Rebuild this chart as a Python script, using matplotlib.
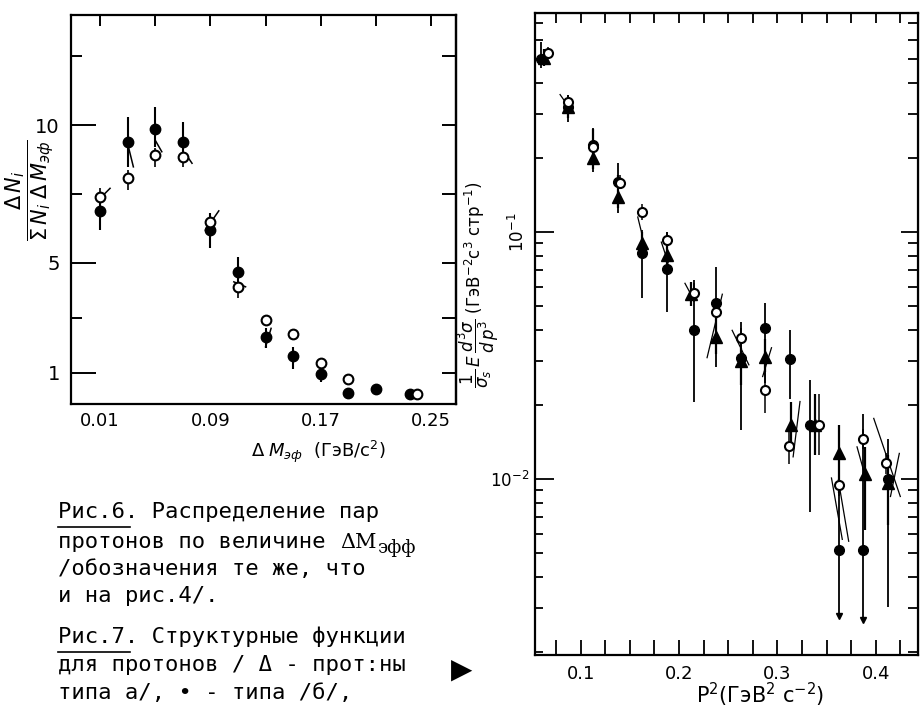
import numpy as np
import matplotlib
matplotlib.use('Agg')
import matplotlib.pyplot as plt
from matplotlib.lines import Line2D
from matplotlib.transforms import blended_transform_factory

# ---------------- Рис.6 : распределение по dM_эфф ----------------
dm_full = [0.01, 0.03, 0.05, 0.07, 0.09, 0.11, 0.13, 0.15, 0.17, 0.19, 0.21, 0.235]
n_full = [6.88, 9.39, 9.85, 9.39, 6.2, 4.67, 2.28, 1.6, 0.95, 0.27, 0.42, 0.24]
n_full_lo = [6.18, 8.48, 9.21, 8.85, 5.52, 4.24, 1.88, 1.15, 0.67, 0.27, 0.42, 0.24]
n_full_hi = [7.39, 10.3, 10.67, 10.12, 6.79, 5.21, 2.61, 1.94, 1.2, 0.27, 0.42, 0.24]

dm_open = [0.01, 0.03, 0.05, 0.07, 0.09, 0.11, 0.13, 0.15, 0.17, 0.19, 0.24]
n_open = [7.39, 8.06, 8.91, 8.85, 6.48, 4.12, 2.91, 2.42, 1.36, 0.76, 0.24]
n_open_lo = [7.09, 7.64, 8.48, 8.48, 6.1, 3.7, 2.91, 2.42, 1.36, 0.76, 0.24]
n_open_hi = [7.7, 8.36, 9.15, 9.1, 6.8, 4.36, 2.91, 2.42, 1.36, 0.76, 0.24]

# косые отрезки (ошибки третьей серии)
sl6_x0 = [0.0088, 0.0306, 0.050, 0.0718, 0.0864, 0.107, 0.130]
sl6_y0 = [7.27, 9.21, 9.45, 8.97, 6.18, 4.30, 1.94]
sl6_x1 = [0.0173, 0.0342, 0.0548, 0.0767, 0.0961, 0.1155, 0.134]
sl6_y1 = [7.70, 8.48, 9.03, 8.61, 6.88, 4.12, 2.61]

# ---------------- Рис.7 : структурные функции ----------------
p2_full = [0.0600, 0.0875, 0.1125, 0.1375, 0.1625, 0.1875, 0.2150, 0.2375, 0.2625,
           0.2875, 0.3125, 0.3335, 0.3625, 0.3875, 0.4125]
f_full = [0.50, 0.32, 0.225, 0.16, 0.082, 0.071, 0.0401, 0.0514, 0.0308, 0.0408,
          0.0305, 0.0166, 0.00516, 0.00516, 0.0100]
f_full_lo = [0.46, 0.28, 0.175, 0.119, 0.054, 0.0475, 0.0206, 0.0285, 0.0158, 0.0245,
             0.021, 0.00738, 0.0028, 0.0027, 0.00304]
f_full_hi = [0.59, 0.36, 0.263, 0.19, 0.102, 0.10, 0.064, 0.072, 0.0434, 0.0514,
             0.040, 0.0251, 0.0166, 0.0184, 0.0145]
p2_limit = [0.3625, 0.3875]
f_limit = [0.0028, 0.0027]

p2_tri = [0.0625, 0.0875, 0.1125, 0.1375, 0.1625, 0.1875, 0.2125, 0.2375, 0.2625,
          0.2875, 0.3135, 0.3380, 0.3625, 0.3890, 0.4125]
f_tri = [0.505, 0.32, 0.20, 0.139, 0.090, 0.081, 0.056, 0.0377, 0.030, 0.0313,
         0.0166, 0.0166, 0.0127, 0.0105, 0.0096]
f_tri_lo = [0.47, 0.29, 0.18, 0.125, 0.08, 0.073, 0.05, 0.032, 0.024, 0.027,
            0.0135, 0.0125, 0.0088, 0.0062, 0.0065]
f_tri_hi = [0.55, 0.35, 0.26, 0.17, 0.10, 0.09, 0.063, 0.045, 0.034, 0.037,
            0.0205, 0.022, 0.0166, 0.0135, 0.0125]

p2_open = [0.0670, 0.0875, 0.1125, 0.1400, 0.1625, 0.1875, 0.2155, 0.2375, 0.2625,
           0.2875, 0.3115, 0.3426, 0.3625, 0.3875, 0.4100]
f_open = [0.53, 0.335, 0.22, 0.158, 0.121, 0.093, 0.0568, 0.0475, 0.0371, 0.0229,
          0.0136, 0.0166, 0.0095, 0.0145, 0.0116]
f_open_lo = [0.51, 0.32, 0.21, 0.15, 0.112, 0.085, 0.052, 0.043, 0.034, 0.0185,
             0.0115, 0.0125, 0.0085, 0.0132, 0.0105]
f_open_hi = [0.56, 0.36, 0.24, 0.17, 0.13, 0.10, 0.062, 0.052, 0.041, 0.028,
             0.016, 0.022, 0.0106, 0.016, 0.0128]

sl7_x0 = [0.079, 0.158, 0.182, 0.206, 0.2285, 0.254, 0.285, 0.316, 0.355, 0.362, 0.381, 0.398, 0.415]
sl7_y0 = [0.36, 0.115, 0.091, 0.062, 0.031, 0.040, 0.026, 0.0123, 0.0101, 0.0099, 0.0135, 0.0176, 0.0085]
sl7_x1 = [0.088, 0.162, 0.189, 0.213, 0.244, 0.271, 0.294, 0.323, 0.366, 0.3725, 0.3895, 0.425, 0.424]
sl7_y1 = [0.32, 0.099, 0.075, 0.055, 0.056, 0.029, 0.034, 0.0206, 0.0057, 0.0056, 0.0102, 0.0085, 0.0127]

W, H = 921, 712


def fx(px):
    return px / W


def fy(py):
    return 1 - py / H


def yerr(v, lo, hi):
    v = np.array(v)
    return [v - np.array(lo), np.array(hi) - v]


fig = plt.figure(figsize=(9.21, 7.12), dpi=100)
fig.patch.set_facecolor('white')

# ===================== левая панель =====================
ax1 = fig.add_axes([fx(71), fy(404), fx(456) - fx(71), fy(15) - fy(404)])
for s in ax1.spines.values():
    s.set_linewidth(1.6)

ax1.errorbar(dm_full, n_full, yerr=yerr(n_full, n_full_lo, n_full_hi), fmt='o',
             color='black', ms=7.5, elinewidth=1.5, capsize=0, zorder=3)
ax1.errorbar(dm_open, n_open, yerr=yerr(n_open, n_open_lo, n_open_hi), fmt='o',
             color='black', mfc='white', ms=7, mew=1.5, elinewidth=1.2, capsize=0, zorder=4)
for a, b, c, d in zip(sl6_x0, sl6_y0, sl6_x1, sl6_y1):
    ax1.plot([a, c], [b, d], color='black', lw=1.1, zorder=2)

ax1.set_xlim(-0.011, 0.268)
ax1.set_ylim(-0.14, 14.0)
ax1.set_xticks([0.01, 0.09, 0.17, 0.25])
ax1.set_xticklabels(['0.01', '0.09', '0.17', '0.25'])
ax1.set_xticks([0.05, 0.13, 0.21], minor=True)
ax1.tick_params(axis='x', which='both', bottom=False, top=True, direction='in',
                length=8, width=1.4, labelsize=13, pad=6)
ax1.set_yticks([1, 5, 10])
ax1.set_yticklabels(['1', '5', '10'])
ax1.set_yticks([3, 7.5, 12.5], minor=True)
ax1.tick_params(axis='y', which='major', left=True, right=False, direction='in',
                length=18, width=1.4, labelsize=14, pad=8)
ax1.tick_params(axis='y', which='minor', left=True, right=False, direction='in',
                length=8, width=1.4)
sec1 = ax1.secondary_yaxis('right')
sec1.set_yticks([1, 3, 5, 7.5, 10, 12.5])
sec1.tick_params(direction='in', length=10, width=1.4, labelright=False)
sec1.spines['right'].set_linewidth(1.6)

fig.text(fx(30), fy(190), r'$\dfrac{\Delta\,N_i}{\Sigma\,N_i\;\Delta\,M_{эф}}$',
         rotation=90, ha='center', va='center', fontsize=15)
fig.text(fx(318), fy(452), r'$\Delta\;M_{эф}$  (ГэВ/c$^2$)', ha='center', va='center',
         fontsize=13)

# ===================== правая панель =====================
ax2 = fig.add_axes([fx(535), fy(655), fx(918) - fx(535), fy(13) - fy(655)])
for s in ax2.spines.values():
    s.set_linewidth(1.6)
ax2.set_yscale('log')

for a, b, c, d in zip(sl7_x0, sl7_y0, sl7_x1, sl7_y1):
    ax2.plot([a, c], [b, d], color='black', lw=0.9, zorder=2)
ax2.errorbar(p2_full, f_full, yerr=yerr(f_full, f_full_lo, f_full_hi), fmt='o',
             color='black', ms=7, elinewidth=1.3, capsize=0, zorder=3)
ax2.plot(p2_limit, f_limit, 'v', color='black', ms=5, zorder=3)
ax2.errorbar(p2_tri, f_tri, yerr=yerr(f_tri, f_tri_lo, f_tri_hi), fmt='^',
             color='black', ms=8, elinewidth=1.6, capsize=0, zorder=3)
ax2.errorbar(p2_open, f_open, yerr=yerr(f_open, f_open_lo, f_open_hi), fmt='o',
             color='black', mfc='white', ms=6.5, mew=1.5, elinewidth=1.1, capsize=0, zorder=4)

ax2.set_xlim(0.0535, 0.443)
ax2.set_ylim(0.00194, 0.77)
ax2.set_xticks([0.1, 0.2, 0.3, 0.4])
ax2.set_xticklabels(['0.1', '0.2', '0.3', '0.4'])
ax2.set_xticks([0.075, 0.125, 0.15, 0.175, 0.225, 0.25, 0.275, 0.325, 0.35, 0.375, 0.425],
               minor=True)
ax2.tick_params(axis='x', which='both', bottom=True, top=False, direction='in',
                length=11, width=1.3, labelsize=13, pad=7)
sec2x = ax2.secondary_xaxis('top')
sec2x.set_xticks([0.075, 0.1, 0.125, 0.15, 0.175, 0.2, 0.225, 0.25, 0.275, 0.3,
                  0.325, 0.35, 0.375, 0.4, 0.425])
sec2x.tick_params(direction='in', length=7, width=1.3, labeltop=False)

ax2.tick_params(axis='y', which='major', left=True, right=False, direction='in',
                length=14, width=1.3, labelleft=False)
ax2.tick_params(axis='y', which='minor', left=True, right=False, direction='in',
                length=6, width=1.3, labelleft=False)
sec2y = ax2.secondary_yaxis('right')
sec2y.tick_params(axis='y', which='major', direction='in', length=12, width=1.3,
                  labelright=False)
sec2y.tick_params(axis='y', which='minor', direction='in', length=7, width=1.3,
                  labelright=False)

tr = blended_transform_factory(ax2.transAxes, ax2.transData)
ax2.text(-0.045, 0.1, r'10$^{-1}$', transform=tr, rotation=90, ha='center',
         va='center', fontsize=12)
ax2.text(-0.065, 0.0098, r'10$^{-2}$', transform=tr, ha='center', va='center',
         fontsize=12)

fig.text(fx(478), fy(285),
         r'$\dfrac{1}{\sigma_s}\,E\,\dfrac{d^3\sigma}{d\,p^3}$ (ГэВ$^{-2}$c$^3$ стр$^{-1}$)',
         rotation=90, ha='center', va='center', fontsize=12)
fig.text(fx(760), fy(695), r'P$^2$(ГэВ$^2$ c$^{-2}$)', ha='center', va='center',
         fontsize=15)

# ===================== подписи =====================
mono = 'DejaVu Sans Mono'
cap_lines = [
    (58, 512, 'Рис.6. Распределение пар'),
    (58, 542, 'протонов по величине'),
    (58, 569, '/обозначения те же, что'),
    (58, 596, 'и на рис.4/.'),
    (58, 637, 'Рис.7. Структурные функции'),
    (58, 665, 'для протонов / Δ - прот:ны'),
    (58, 693, 'типа а/, • - типа /б/,'),
]
for x0, y0, s in cap_lines:
    fig.text(fx(x0), fy(y0), s, ha='left', va='center', fontsize=16, family=mono)
fig.text(fx(340), fy(542), 'ΔM', ha='left', va='center', fontsize=15, family='DejaVu Serif')
fig.text(fx(377), fy(548), 'эфф', ha='left', va='center', fontsize=13, family='DejaVu Serif')
fig.add_artist(Line2D([fx(58), fx(130)], [fy(527), fy(527)], color='black', lw=1.2))
fig.add_artist(Line2D([fx(58), fx(130)], [fy(652), fy(652)], color='black', lw=1.2))
fig.text(fx(462), fy(670), '▶', ha='center', va='center', fontsize=20)

fig.savefig('out.png', dpi=100)
